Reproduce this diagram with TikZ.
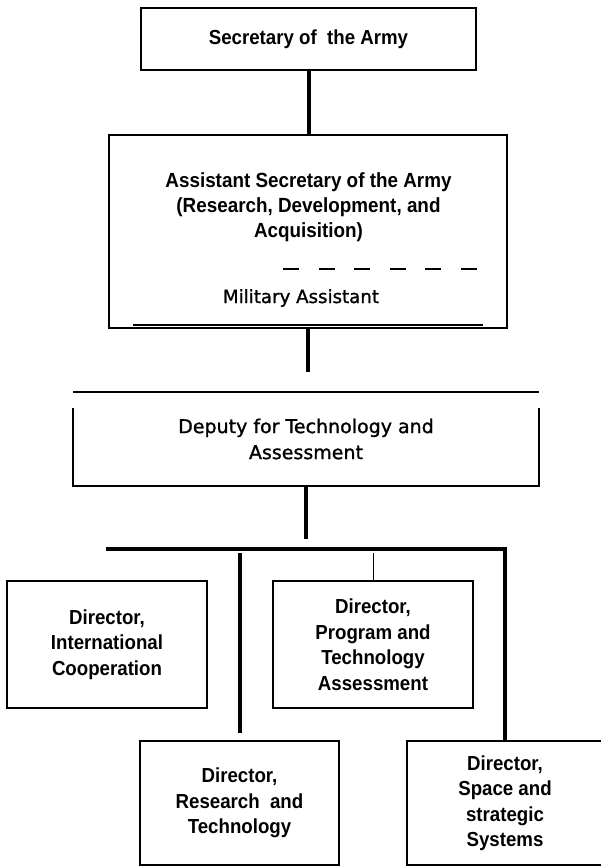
\documentclass[tikz,border=0pt]{standalone}
\usepackage{fontspec}
\setmainfont{Liberation Sans}
\newfontfamily\orgfont[FakeStretch=0.92]{Liberation Sans}
\newfontfamily\depfont[FakeBold=1.2]{DejaVu Sans}
\usetikzlibrary{shapes,arrows,calc}

\begin{document}
\begin{tikzpicture}[auto, outer sep=0pt, inner sep=0pt, x=1pt, y=-1pt,
  box/.style={draw, line width=1.3pt, align=center,
    font=\orgfont\bfseries\fontsize{20.3}{25.5}\selectfont},
  bar/.style={line width=4pt}]
\useasboundingbox (0,0) rectangle (601,868);

\node[box, minimum width=335, minimum height=62] at (308.5, 39) (sec) {Secretary of\ \ the Army};

\node[box, minimum width=398, minimum height=193] at (308, 231.5) (asa) {};
\node[align=center, font=\orgfont\bfseries\fontsize{20.5}{25}\selectfont] at (308.5, 207) (asatitle)
  {Assistant Secretary of the Army\\(Research, Development, and\\Acquisition)};
\node[font=\depfont\fontsize{18.2}{22}\selectfont] at (301, 298) (mil) {Military Assistant};
\draw[line width=1.4pt, dash pattern=on 16pt off 19.5pt] ($(mil.north)+(-18,-20)$) -- ($(mil.north)+(179,-20)$);
\draw[line width=2pt] ($(asa.south west)+(24,-3)$) -- ($(asa.south east)+(-24,-3)$);

\node[align=center, minimum width=466, minimum height=94, font=\depfont\fontsize{19}{26}\selectfont]
  at (306, 439) (dep) {Deputy for Technology and\\Assessment};
\draw[line width=1.3pt] (dep.north west) -- (dep.north east);
\draw[line width=1.3pt] ($(dep.north west)+(0,16)$) |- (dep.south east) -- ($(dep.north east)+(0,16)$);

\node[box, minimum width=200, minimum height=127] at (107, 644.5) (intl) {Director,\\International\\Cooperation};
\node[box, minimum width=200, minimum height=127] at (373, 644.5) (pta) {Director,\\Program and\\Technology\\Assessment};
\node[box, minimum width=199, minimum height=124] at (239.5, 803) (rt) {Director,\\Research\ \ and\\Technology};
\node[box, minimum width=196, minimum height=124] at (505, 803) (sss) {Director,\\Space and\\strategic\\Systems};

\coordinate (asaend) at ($(asa.south)+(0,44)$);
\coordinate (depend) at ($(dep.south)+(0,53)$);
\coordinate (busL) at (106, 549);

\draw[bar] (sec.south) -- (sec.south |- asa.north);
\draw[bar] (asa.south) -- (asaend);
\draw[bar] (dep.south) -- (depend);
\draw[bar] (busL) -| (sss.north);
\draw[bar] ($(rt.north |- busL)+(0,4)$) -- ($(rt.north)+(0,-8)$);
\draw[line width=1pt] ($(pta.north |- busL)+(0,4)$) -- (pta.north);
\end{tikzpicture}
\end{document}
